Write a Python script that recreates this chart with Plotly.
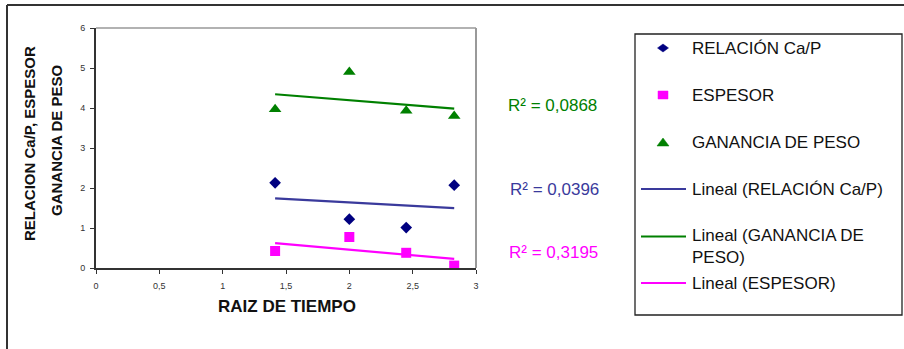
import numpy as np
import plotly.graph_objects as go

# Square root of time (sqrt of 2, 4, 6, 8)
raiz_tiempo = [1.414, 2.0, 2.449, 2.828]

relacion_ca_p = [2.13, 1.22, 1.01, 2.07]
espesor = [0.425, 0.775, 0.38, 0.06]
ganancia_peso = [3.97, 4.90, 3.93, 3.80]

series_names = ["RELACIÓN Ca/P", "ESPESOR", "GANANCIA DE PESO"]
r2_labels = ["R² = 0,0396", "R² = 0,3195", "R² = 0,0868"]

x_ticks = [0, 0.5, 1, 1.5, 2, 2.5, 3]
y_ticks = [0, 1, 2, 3, 4, 5, 6]

BLUE_PT = "#000080"
BLUE_LN = "#3a3a9c"
PINK = "#FF00FF"
GREEN = "#008000"
FONT = "Liberation Sans, Arial, sans-serif"

W, H = 904, 349
L, R, T, B = 96, 476, 28, 268  # plot area in pixels


def px(x):
    return (x - L) / (R - L)


def py(y):
    return (B - y) / (B - T)


fig = go.Figure()

# scatter points
fig.add_trace(go.Scatter(x=raiz_tiempo, y=relacion_ca_p, mode="markers",
                         marker=dict(symbol="diamond", size=9, color=BLUE_PT),
                         name=series_names[0], showlegend=False))
fig.add_trace(go.Scatter(x=raiz_tiempo, y=espesor, mode="markers",
                         marker=dict(symbol="square", size=10, color=PINK),
                         name=series_names[1], showlegend=False))
fig.add_trace(go.Scatter(x=raiz_tiempo, y=ganancia_peso, mode="markers",
                         marker=dict(symbol="triangle-up", size=11, color=GREEN),
                         name=series_names[2], showlegend=False))

# linear trendlines fitted to each series
x_arr = np.array(raiz_tiempo)
x_end = np.array([x_arr.min(), x_arr.max()])
for vals, col, nm in [(relacion_ca_p, BLUE_LN, "Lineal (RELACIÓN Ca/P)"),
                      (ganancia_peso, GREEN, "Lineal (GANANCIA DE PESO)"),
                      (espesor, PINK, "Lineal (ESPESOR)")]:
    m, c = np.polyfit(x_arr, np.array(vals), 1)
    fig.add_trace(go.Scatter(x=x_end, y=m * x_end + c, mode="lines",
                             line=dict(color=col, width=2.2),
                             name=nm, showlegend=False))

shapes = []
annotations = []

# outer chart frame (top and left edges)
shapes.append(dict(type="line", xref="paper", yref="paper",
                   x0=px(7), x1=px(W + 5), y0=py(5), y1=py(5),
                   line=dict(color="#333333", width=2)))
shapes.append(dict(type="line", xref="paper", yref="paper",
                   x0=px(7), x1=px(7), y0=py(5), y1=py(H + 5),
                   line=dict(color="#333333", width=2)))

# gray plot border on top and right
shapes.append(dict(type="line", xref="paper", yref="paper", x0=0, x1=1, y0=1, y1=1,
                   line=dict(color="#999999", width=1.5)))
shapes.append(dict(type="line", xref="paper", yref="paper", x0=1, x1=1, y0=0, y1=1,
                   line=dict(color="#999999", width=2)))

# R² annotations
for lbl, col, (cx, cy) in [(r2_labels[2], GREEN, (552, 105)),
                           (r2_labels[0], BLUE_LN, (554, 189)),
                           (r2_labels[1], PINK, (553, 252))]:
    annotations.append(dict(text=lbl, x=px(cx), y=py(cy), xref="paper", yref="paper",
                            xanchor="center", yanchor="middle", showarrow=False,
                            font=dict(family=FONT, size=17, color=col)))

# axis titles
annotations.append(dict(text="<b>RAIZ DE TIEMPO</b>", x=px(287), y=py(306),
                        xref="paper", yref="paper", xanchor="center", yanchor="middle",
                        showarrow=False, font=dict(family=FONT, size=17, color="#111111")))
annotations.append(dict(text="<b>RELACION Ca/P, ESPESOR</b>", x=px(29), y=py(144),
                        xref="paper", yref="paper", xanchor="center", yanchor="middle",
                        textangle=-90, showarrow=False,
                        font=dict(family=FONT, size=15, color="#111111")))
annotations.append(dict(text="<b>GANANCIA DE PESO</b>", x=px(56), y=py(141),
                        xref="paper", yref="paper", xanchor="center", yanchor="middle",
                        textangle=-90, showarrow=False,
                        font=dict(family=FONT, size=15, color="#111111")))

# legend box
shapes.append(dict(type="rect", xref="paper", yref="paper",
                   x0=px(635), x1=px(902), y0=py(34), y1=py(315),
                   line=dict(color="#222222", width=1.3), fillcolor="rgba(0,0,0,0)"))


def path_shape(points, color):
    d = "M " + " L ".join(f"{px(a):.5f},{py(b):.5f}" for a, b in points) + " Z"
    return dict(type="path", xref="paper", yref="paper", path=d,
                fillcolor=color, line=dict(color=color, width=0.5))


mx = 663
# legend symbols
shapes.append(path_shape([(mx - 5.5, 48), (mx, 44), (mx + 5.5, 48), (mx, 52)], BLUE_PT))
shapes.append(path_shape([(mx - 5, 91), (mx + 5, 91), (mx + 5, 99), (mx - 5, 99)], PINK))
shapes.append(path_shape([(mx - 6, 146), (mx + 6, 146), (mx, 138)], GREEN))
for yy, col in [(189, BLUE_LN), (236.5, GREEN), (283, PINK)]:
    shapes.append(dict(type="line", xref="paper", yref="paper",
                       x0=px(641), x1=px(686), y0=py(yy), y1=py(yy),
                       line=dict(color=col, width=2.2)))

legend_text = [
    ("RELACIÓN Ca/P", 48),
    ("ESPESOR", 95),
    ("GANANCIA DE PESO", 142),
    ("Lineal (RELACIÓN Ca/P)", 189),
    ("Lineal (GANANCIA DE", 235),
    ("PESO)", 257),
    ("Lineal (ESPESOR)", 283),
]
for txt, yy in legend_text:
    annotations.append(dict(text=txt, x=px(690), y=py(yy), xref="paper", yref="paper",
                            xanchor="left", yanchor="middle", showarrow=False,
                            font=dict(family=FONT, size=17, color="#111111")))

fig.update_layout(
    width=W, height=H,
    margin=dict(l=L, r=W - R, t=T, b=H - B, pad=0, autoexpand=False),
    paper_bgcolor="white", plot_bgcolor="white",
    separators=",.",
    showlegend=False,
    shapes=shapes,
    annotations=annotations,
    xaxis=dict(range=[0, 3], tickvals=x_ticks, ticks="outside", ticklen=4,
               tickcolor="#333333", showgrid=False, zeroline=False,
               showline=True, linecolor="#333333", linewidth=2,
               tickfont=dict(family=FONT, size=9, color="#333333"),
               ticklabelstandoff=4),
    yaxis=dict(range=[0, 6], tickvals=y_ticks, ticks="outside", ticklen=4,
               tickcolor="#333333", showgrid=False, zeroline=False,
               showline=True, linecolor="#333333", linewidth=2,
               tickfont=dict(family=FONT, size=9, color="#333333"),
               ticklabelstandoff=3),
)

fig.write_html("out.html")
